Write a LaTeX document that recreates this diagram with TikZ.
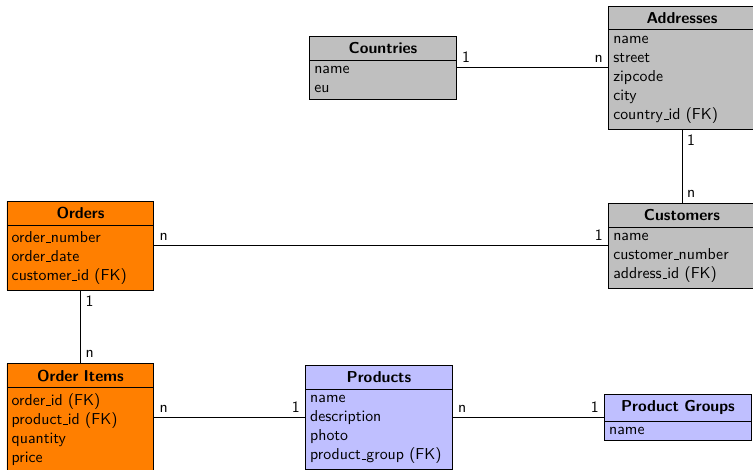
\documentclass[tikz,border=0pt]{standalone}
\usepackage{tikz}
\usetikzlibrary{positioning,shapes.multipart}
\definecolor{tablegray}{RGB}{191, 191, 191}
\definecolor{tableorange}{RGB}{255, 127, 0}
\definecolor{tableblue}{RGB}{191, 191, 255}

% short underscore as in the old OT1 fonts
\newcommand{\us}{\leavevmode\kern.06em\vbox{\hrule width.3em}}

\tikzset{
    entity/.style={rectangle split, rectangle split parts=2, draw=black, line width=0.6pt,
        text width=87pt, inner xsep=3pt, inner ysep=3.6pt, align=left, font=\sffamily},
    relation/.style={draw=black, line width=0.6pt},
    cardinality/.style={font=\sffamily, inner sep=3pt}
}

\begin{document}
\begin{tikzpicture}
    \useasboundingbox (0,0) rectangle (16.75,10.45);

    % Address tables
    \node[entity, fill=tablegray] (countries) at (8.52,8.94) {{\centering\textbf{Countries}\par}
        \nodepart{two} name\\ eu};
    \node[entity, fill=tablegray] (addresses) at (15.17,8.94) {{\centering\textbf{Addresses}\par}
        \nodepart{two} name\\ street\\ zipcode\\ city\\ country\us id (FK)};
    \node[entity, fill=tablegray] (customers) at (15.17,4.98) {{\centering\textbf{Customers}\par}
        \nodepart{two} name\\ customer\us number\\ address\us id (FK)};

    % Order tables
    \node[entity, fill=tableorange] (orders) at (1.79,4.98) {{\centering\textbf{Orders}\par}
        \nodepart{two} order\us number\\ order\us date\\ customer\us id (FK)};
    \node[entity, fill=tableorange] (orderitems) at (1.79,1.16) {{\centering\textbf{Order Items}\par}
        \nodepart{two} order\us id (FK)\\ product\us id (FK)\\ quantity\\ price};

    % Product tables
    \node[entity, fill=tableblue] (products) at (8.43,1.16) {{\centering\textbf{Products}\par}
        \nodepart{two} name\\ description\\ photo\\ product\us group (FK)};
    \node[entity, fill=tableblue] (productgroups) at (15.08,1.16) {{\centering\textbf{Product Groups}\par}
        \nodepart{two} name};

    % Relations
    \draw[relation] (countries) -- node[cardinality, pos=0, above right] {1}
        node[cardinality, pos=1, above left] {n} (addresses);
    \draw[relation] (addresses) -- node[cardinality, pos=0, below right] {1}
        node[cardinality, pos=1, above right] {n} (customers);
    \draw[relation] (orders) -- node[cardinality, pos=0, above right] {n}
        node[cardinality, pos=1, above left] {1} (customers);
    \draw[relation] (orders) -- node[cardinality, pos=0, below right] {1}
        node[cardinality, pos=1, above right] {n} (orderitems);
    \draw[relation] (orderitems) -- node[cardinality, pos=0, above right] {n}
        node[cardinality, pos=1, above left] {1} (products);
    \draw[relation] (products) -- node[cardinality, pos=0, above right] {n}
        node[cardinality, pos=1, above left] {1} (productgroups);
\end{tikzpicture}
\end{document}
